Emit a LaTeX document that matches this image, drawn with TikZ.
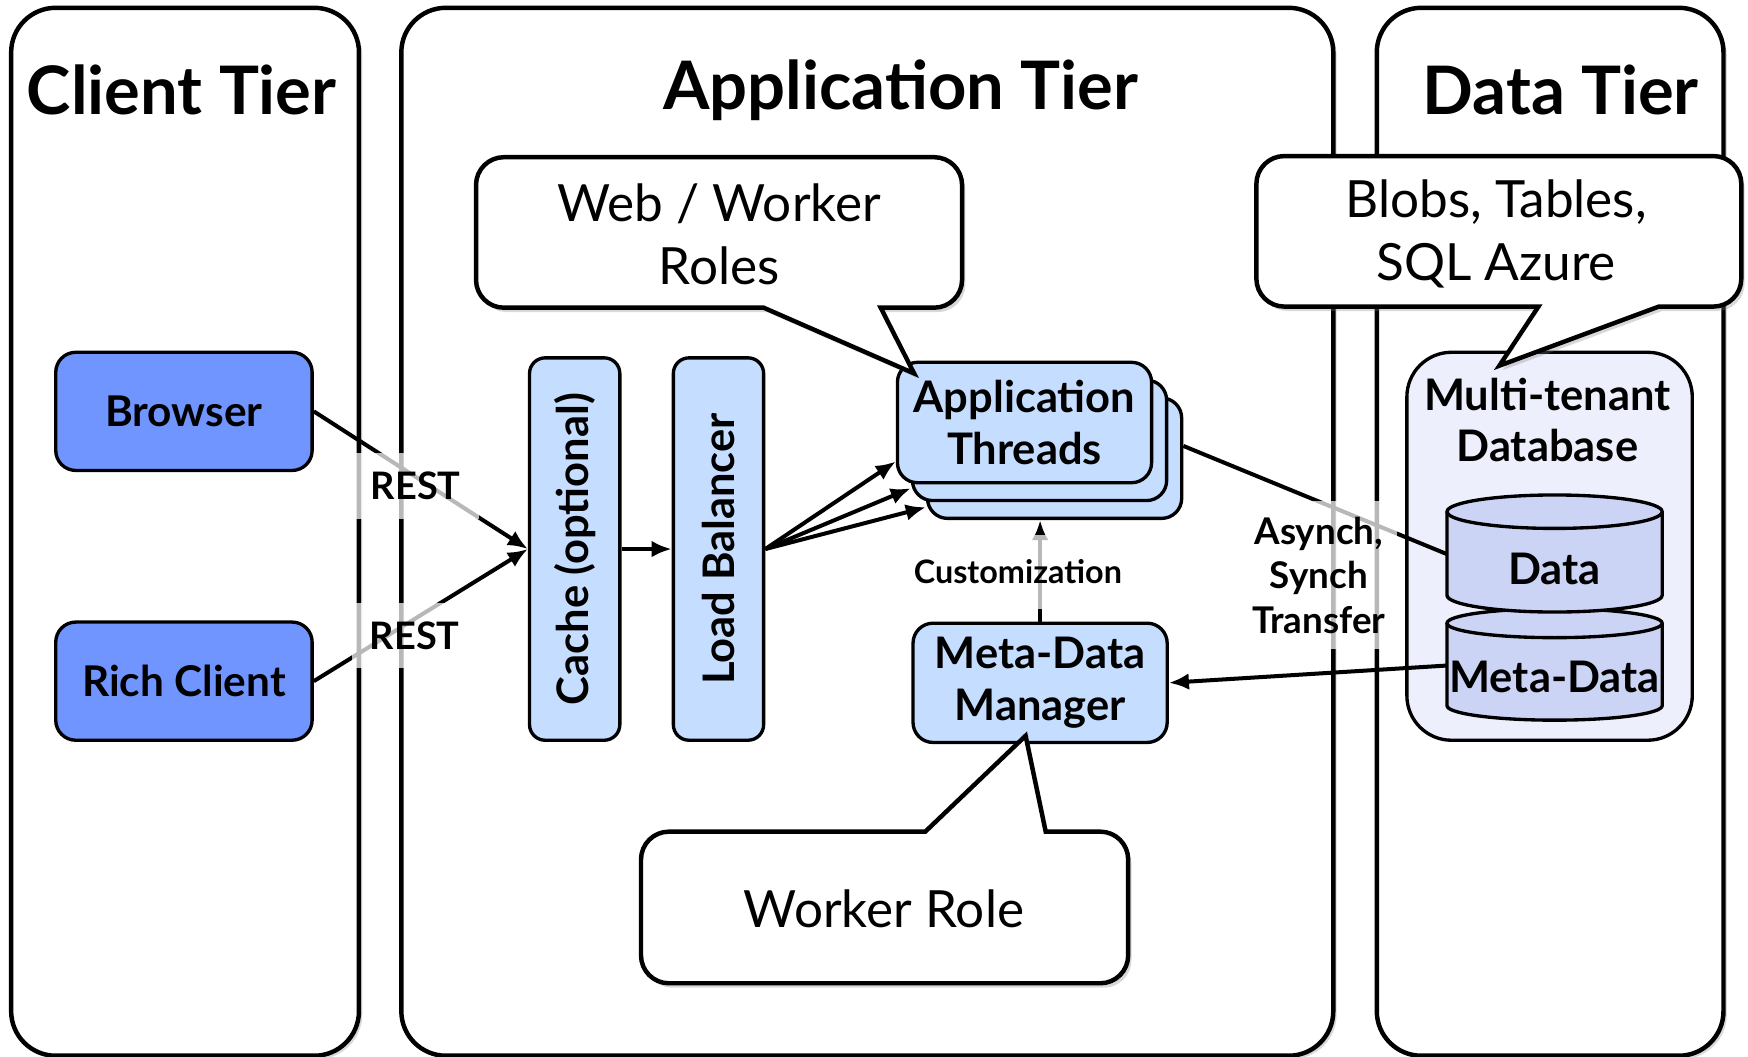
\documentclass[tikz,border=0pt]{standalone}
\usepackage{fontspec}
\setmainfont{Lato}
\usetikzlibrary{shadows,arrows.meta,calc}
\definecolor{clientblue}{RGB}{112,149,255}
\definecolor{paleblue}{RGB}{197,221,255}
\definecolor{dbfill}{RGB}{237,239,252}
\definecolor{cylfill}{RGB}{204,212,245}
\newcommand\fsz[2]{\fontsize{#1pt}{#2pt}\selectfont}
\tikzset{
 tier/.style={draw, line width=4pt, rounded corners=40pt, fill=white,
   drop shadow={shadow xshift=3pt, shadow yshift=-3pt, opacity=0.3}},
 tiertitle/.style={font=\bfseries\fsz{60}{70}, inner sep=0pt},
 callout/.style={draw, line width=4pt, fill=white, line join=miter,
   drop shadow={shadow xshift=3pt, shadow yshift=-4pt, opacity=0.3}},
 calltext/.style={font=\fsz{46}{57}, align=center, inner sep=0pt},
 clientbox/.style={draw, line width=3pt, rounded corners=18pt, fill=clientblue,
   font=\bfseries\fsz{38}{46}, align=center, inner sep=0pt},
 appbox/.style={draw, line width=3pt, rounded corners=18pt, fill=paleblue,
   font=\bfseries\fsz{39}{46}, align=center, inner sep=0pt},
 cylbody/.style={fill=cylfill},
 cylline/.style={draw, line width=3pt},
 dbtext/.style={font=\bfseries\fsz{39}{46}, align=center, inner sep=0pt},
 conn/.style={line width=3.6pt, -{Latex[length=18pt,width=15pt]}},
 plainconn/.style={line width=3.6pt},
 lbl/.style={fill=white, fill opacity=0.72, text opacity=1, align=center,
   font=\bfseries\fsz{34}{40}},
}
\begin{document}
\begin{tikzpicture}[x=1pt,y=-1pt]
\useasboundingbox (0,0) rectangle (1568,948);
% tiers
\node[tier, minimum width=312pt, minimum height=940pt] (clienttier) at (166,477) {};
\node[tier, minimum width=836pt, minimum height=940pt] (apptier) at (778,477) {};
\node[tier, minimum width=311pt, minimum height=940pt] (datatier) at (1390.5,477) {};
\node[tiertitle] (clienttitle) at (163,81) {Client Tier};
\node[tiertitle] (apptitle) at (808,81) {Application Tier};
\node[tiertitle] (datatitle) at (1400,81) {Data Tier};

% client boxes
\node[clientbox, minimum width=230pt, minimum height=106pt] (browser) at (165,369) {Browser};
\node[clientbox, minimum width=230pt, minimum height=106pt] (rich) at (165,611) {Rich Client};

% application boxes
\node[appbox, rounded corners=14pt, minimum width=81pt, minimum height=343pt] (cache) at (515.5,492.5) {};
\node[rotate=90, dbtext] (cachetext) at (cache.center) {Cache (optional)};
\node[appbox, rounded corners=14pt, minimum width=81pt, minimum height=343pt] (lb) at (644.5,492.5) {};
\node[rotate=90, dbtext] (lbtext) at (lb.center) {Load Balancer};

\node[appbox, minimum width=228pt, minimum height=108pt] (third) at (946,411) {};
\node[appbox, minimum width=228pt, minimum height=108pt] (second) at (932.5,395) {};
\node[appbox, minimum width=228pt, minimum height=108pt] (front) at (919,379) {Application\\Threads};

\node[appbox, minimum width=228pt, minimum height=107pt] (manager) at (933,612.5) {Meta-Data\\Manager};

% database
\node[draw, line width=3pt, rounded corners=40pt, fill=dbfill, minimum width=256pt, minimum height=348pt] (db) at (1390,490) {};
\node[dbtext] (dbtitle) at (1388,377) {Multi-tenant\\Database};

% meta cylinder
\path[cylbody] (1298,559) -- (1298,633) arc[start angle=180, end angle=360, x radius=96.5pt, y radius=13pt] -- (1491,559) -- cycle;
\path[cylline] (1298,559) -- (1298,633) arc[start angle=180, end angle=360, x radius=96.5pt, y radius=13pt] -- (1491,559);
\path[cylline, fill=cylfill] (1394.5,559) ellipse [x radius=96.5pt, y radius=13pt];
% data cylinder
\path[cylbody] (1298,459) -- (1298,534) arc[start angle=180, end angle=360, x radius=96.5pt, y radius=15pt] -- (1491,459) -- cycle;
\path[cylline] (1298,459) -- (1298,534) arc[start angle=180, end angle=360, x radius=96.5pt, y radius=15pt] -- (1491,459);
\path[cylline, fill=cylfill] (1394.5,459) ellipse [x radius=96.5pt, y radius=15pt];
\node[dbtext, minimum width=193pt] (data) at (1394.5,510) {Data};
\node[dbtext, minimum width=193pt] (meta) at (1394.5,607) {Meta-Data};

% connectors
\draw[conn] (browser.east) -- (cache.west);
\draw[conn] (rich.east) -- (cache.west);
\draw[conn] (cache.east) -- (lb.west);
\draw[conn] (lb.east) -- ([yshift=-35pt]front.west);
\draw[conn] (lb.east) -- ([yshift=-43pt]second.west);
\draw[conn] (lb.east) -- ([yshift=-44pt]third.west);
\draw[plainconn] ([yshift=11pt]third.east) -- ([yshift=13pt]data.west);
\draw[conn] ([yshift=10pt]meta.west) -- (manager.east);
\draw[conn] (manager.north) -- (manager.north |- third.south);

% callouts
\path[callout] (820,335) -- (790,276) [rounded corners=25pt] -- (863,276) -- (863,141) -- (427,141) -- (427,276) [sharp corners] -- (685,276) -- cycle;
\node[calltext] (webroles) at (645,210) {Web / Worker\\Roles};
\path[callout] (1345,328) -- (1488,275) [rounded corners=25pt] -- (1562,275) -- (1562,140) -- (1127,140) -- (1127,275) [sharp corners] -- (1380,275) -- cycle;
\node[calltext] (blobs) at (1342,210) {Blobs, Tables,\\SQL Azure};
\path[callout] (920,660) -- (938,746) [rounded corners=25pt] -- (1012,746) -- (1012,882) -- (575,882) -- (575,746) [sharp corners] -- (830,746) -- cycle;
\node[calltext] (worker) at (793,815) {Worker Role};

% labels
\node[lbl, minimum width=113pt, minimum height=59pt] (rest1) at (373,436) {REST};
\node[lbl, minimum width=113pt, minimum height=59pt] (rest2) at (372,570) {REST};
\node[lbl, font=\bfseries\fsz{29}{36}, minimum height=66pt] (custom) at (913,513) {Customization};
\node[lbl, font=\bfseries\fsz{33}{40}, inner xsep=10pt, inner ysep=14pt] (asynch) at (1183,516) {Asynch,\\Synch\\Transfer};
\end{tikzpicture}
\end{document}
